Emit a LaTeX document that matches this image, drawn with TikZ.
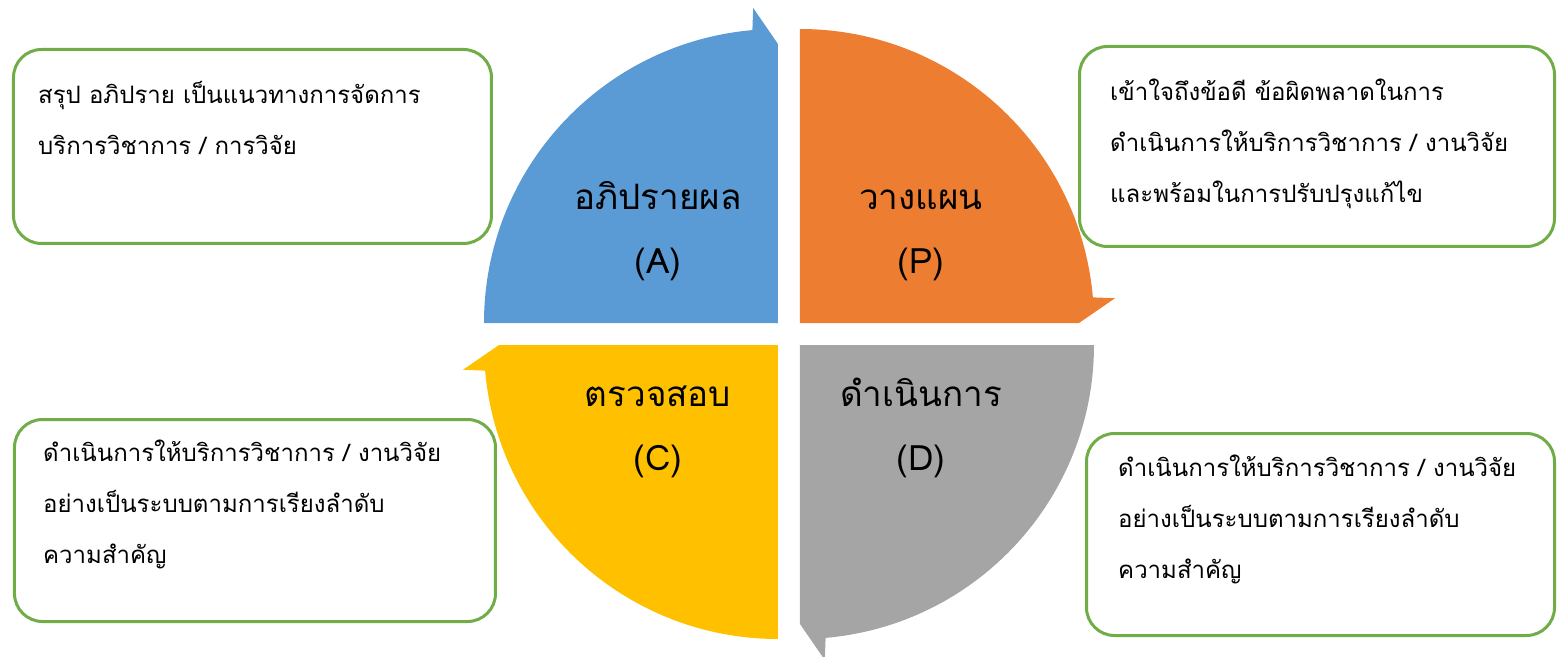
\documentclass[tikz,border=0pt]{standalone}
\usepackage{fontspec}
\usepackage{tikz}
\usetikzlibrary{positioning}
\newfontfamily\thaifont[Script=Thai]{Loma}
\definecolor{pdcaBlue}{HTML}{5B9BD5}
\definecolor{pdcaOrange}{HTML}{ED7D31}
\definecolor{pdcaGray}{HTML}{A5A5A5}
\definecolor{pdcaYellow}{HTML}{FFC000}
\definecolor{noteGreen}{HTML}{70AD47}
\pgfdeclarelayer{bg}
\pgfsetlayers{bg,main}
\tikzset{
  note/.style={draw=noteGreen, line width=3pt, rounded corners=28pt, fill=white},
  notetext/.style={font=\thaifont\fontsize{24}{51}\selectfont, align=left, anchor=base west, inner sep=0pt},
  phase/.style={font=\thaifont\fontsize{35}{64}\selectfont, align=center, anchor=base, inner sep=0pt}
}

\begin{document}
\begin{tikzpicture}[x=1pt, y=1pt]
        \useasboundingbox (-789,-322) rectangle (769,334);
        \begin{pgfonlayer}{bg}
                \begin{scope}[shift={(-11,11)}]
                        \fill[pdcaBlue] (0,0) -- (180:294pt) arc[start angle=180, end angle=95, radius=294pt] -- (94.5:316pt) -- (90:279pt) -- cycle;
                \end{scope}
                \begin{scope}[shift={(11,11)}, rotate=-90]
                        \fill[pdcaOrange] (0,0) -- (180:294pt) arc[start angle=180, end angle=95, radius=294pt] -- (94.5:316pt) -- (90:279pt) -- cycle;
                \end{scope}
                \begin{scope}[shift={(11,-11)}, rotate=-180]
                        \fill[pdcaGray] (0,0) -- (180:294pt) arc[start angle=180, end angle=95, radius=294pt] -- (94.5:316pt) -- (90:279pt) -- cycle;
                \end{scope}
                \begin{scope}[shift={(-11,-11)}, rotate=90]
                        \fill[pdcaYellow] (0,0) -- (180:294pt) arc[start angle=180, end angle=95, radius=294pt] -- (94.5:316pt) -- (90:279pt) -- cycle;
                \end{scope}
        \end{pgfonlayer}
        % phase labels
        \node (lblA) [phase] at (-131, 60) {อภิปรายผล\\(A)};
        \node (lblP) [phase] at (132, 60) {วางแผน\\(P)};
        \node (lblC) [phase] at (-131, -136) {ตรวจสอบ\\(C)};
        \node (lblD) [phase] at (132, -136) {ดำเนินการ\\(D)};
        % notes
        \node (boxA) [note, minimum width=478pt, minimum height=194pt] at (-536.5, 187.5) {};
        \node (boxP) [note, minimum width=475pt, minimum height=200pt] at (528, 187.5) {};
        \node (boxC) [note, minimum width=481pt, minimum height=202pt] at (-534, -186.5) {};
        \node (boxD) [note, minimum width=468pt, minimum height=202pt] at (531.5, -200.5) {};
        \node (txtA) [notetext] at ([shift={(26pt,-107pt)}]boxA.north west) {สรุป อภิปราย เป็นแนวทางการจัดการ\\บริการวิชาการ / การวิจัย};
        \node (txtP) [notetext] at ([shift={(32pt,-158pt)}]boxP.north west) {เข้าใจถึงข้อดี ข้อผิดพลาดในการ\\ดำเนินการให้บริการวิชาการ / งานวิจัย\\และพร้อมในการปรับปรุงแก้ไข};
        \node (txtC) [notetext] at ([shift={(30pt,-145pt)}]boxC.north west) {ดำเนินการให้บริการวิชาการ / งานวิจัย\\อย่างเป็นระบบตามการเรียงลำดับ\\ความสำคัญ};
        \node (txtD) [notetext] at ([shift={(33pt,-146pt)}]boxD.north west) {ดำเนินการให้บริการวิชาการ / งานวิจัย\\อย่างเป็นระบบตามการเรียงลำดับ\\ความสำคัญ};
\end{tikzpicture}
\end{document}
